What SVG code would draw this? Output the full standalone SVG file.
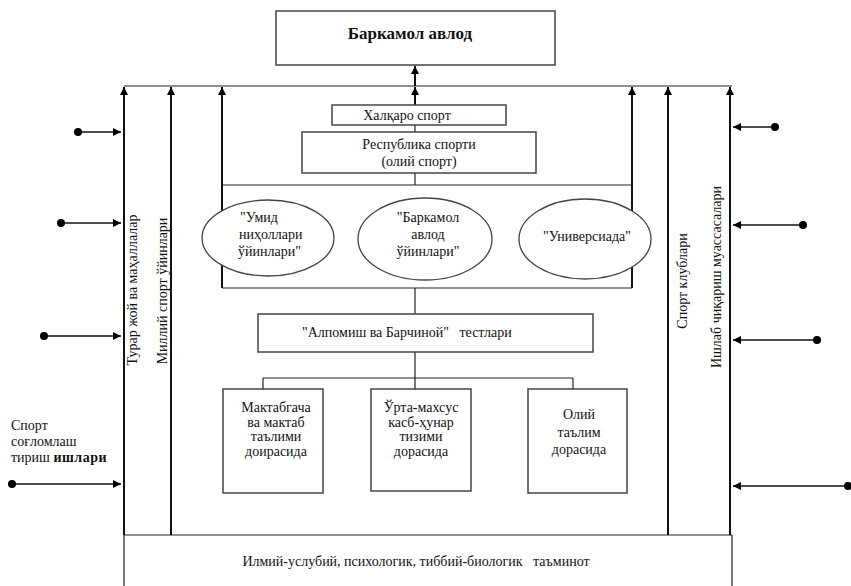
<svg xmlns="http://www.w3.org/2000/svg" width="851" height="586" viewBox="0 0 851 586" font-family="'Liberation Serif', 'DejaVu Serif', serif">
<defs>
<marker id="ah" viewBox="0 0 10 10" refX="10" refY="5" markerWidth="8" markerHeight="8" markerUnits="userSpaceOnUse" orient="auto">
<path d="M0,0 L10,5 L0,10 z" fill="#000"/>
</marker>
<marker id="dot" viewBox="0 0 10 10" refX="5" refY="5" markerWidth="8" markerHeight="8" markerUnits="userSpaceOnUse">
<circle cx="5" cy="5" r="5" fill="#000"/>
</marker>
</defs>
<style>
text{font-family:"Liberation Serif","DejaVu Serif",serif;font-size:14px;fill:#111}
.c{text-anchor:middle}
.b{font-weight:bold;font-size:17px}
.w{font-weight:bold;letter-spacing:0.5px}
.box{fill:#fff;stroke:#444;stroke-width:1.5}
.ell{fill:#fff;stroke:#444;stroke-width:1.3}
.ln{stroke:#222;stroke-width:1.2;fill:none}
.ar{stroke:#111;stroke-width:2;fill:none;marker-end:url(#ah)}
.sa{stroke:#111;stroke-width:1.6;fill:none;marker-start:url(#dot);marker-end:url(#ah)}
</style>
<rect width="851" height="586" fill="#fff"/>

<g id="connectors">
<line class="ln" x1="124" y1="86" x2="732" y2="86"/>
<line class="ln" x1="124" y1="535" x2="732" y2="535"/>
<line class="ln" x1="124" y1="535" x2="124" y2="586"/>
<line class="ln" x1="732" y1="535" x2="732" y2="586"/>
<line class="ar" x1="124" y1="535" x2="124" y2="87"/>
<line class="ar" x1="171" y1="535" x2="171" y2="87"/>
<line class="ar" x1="222" y1="288" x2="222" y2="87"/>
<line class="ar" x1="632" y1="288" x2="632" y2="87"/>
<line class="ar" x1="668" y1="535" x2="668" y2="87"/>
<line class="ar" x1="730" y1="535" x2="730" y2="87"/>
<line class="ar" x1="415" y1="105" x2="415" y2="87"/>
<line class="ar" x1="415" y1="86" x2="415" y2="66"/>
<line class="ln" x1="415" y1="125" x2="415" y2="132"/>
<line class="ln" x1="415" y1="173" x2="415" y2="185"/>
<line class="ln" x1="222" y1="185" x2="632" y2="185"/>
<line class="ln" x1="222" y1="288" x2="632" y2="288"/>
<line class="ln" x1="415" y1="288" x2="415" y2="314"/>
<line class="ln" x1="415" y1="352" x2="415" y2="389"/>
<line class="ln" x1="263" y1="378" x2="573" y2="378"/>
<line class="ln" x1="263" y1="378" x2="263" y2="389"/>
<line class="ln" x1="573" y1="378" x2="573" y2="389"/>
<line class="sa" x1="78" y1="132" x2="121" y2="132"/>
<line class="sa" x1="61" y1="223" x2="121" y2="223"/>
<line class="sa" x1="44" y1="336" x2="121" y2="336"/>
<line class="sa" x1="12" y1="484" x2="121" y2="484"/>
<line class="sa" x1="775" y1="127" x2="733" y2="127"/>
<line class="sa" x1="803" y1="225" x2="733" y2="225"/>
<line class="sa" x1="817" y1="340" x2="733" y2="340"/>
<line class="sa" x1="848" y1="486" x2="733" y2="486"/>
</g>

<g id="barkamol">
<rect class="box" x="276" y="11" width="279" height="54"/>
<text class="c b" x="410" y="39">Баркамол авлод</text>
</g>

<g id="xalqaro">
<rect class="box" x="332" y="105" width="174" height="20"/>
<text class="c" x="407" y="120">Халқаро спорт</text>
</g>

<g id="respublika">
<rect class="box" x="302" y="132" width="234" height="41"/>
<text class="c" x="419" y="149">Республика спорти</text>
<text class="c" x="419" y="166">(олий спорт)</text>
</g>

<g id="umid">
<ellipse class="ell" cx="268" cy="238" rx="66" ry="38"/>
<text x="240" y="222">"Умид</text>
<text x="239" y="239">ниҳоллари</text>
<text x="238" y="256">ўйинлари"</text>
</g>

<g id="barkamol-oyin">
<ellipse class="ell" cx="425" cy="239" rx="67" ry="41"/>
<text class="c" x="428" y="222">"Баркамол</text>
<text class="c" x="428" y="239">авлод</text>
<text class="c" x="428" y="256">ўйинлари"</text>
</g>

<g id="universiada">
<ellipse class="ell" cx="585" cy="239" rx="66" ry="40"/>
<text class="c" x="587" y="241">"Универсиада"</text>
</g>

<g id="alpomish">
<rect class="box" x="258" y="314" width="335" height="38"/>
<text x="302" y="337" xml:space="preserve">"Алпомиш ва Барчиной"   тестлари</text>
</g>

<g id="maktab">
<rect class="box" x="223" y="389" width="100" height="104"/>
<text class="c" x="276" y="412">Мактабгача</text>
<text class="c" x="276" y="427">ва мактаб</text>
<text class="c" x="276" y="441">таълими</text>
<text class="c" x="276" y="456">доирасида</text>
</g>

<g id="orta">
<rect class="box" x="371" y="389" width="100" height="102"/>
<text class="c" x="421" y="412">Ўрта-махсус</text>
<text class="c" x="421" y="427">касб-ҳунар</text>
<text class="c" x="421" y="441">тизими</text>
<text class="c" x="421" y="456">дорасида</text>
</g>

<g id="oliy">
<rect class="box" x="528" y="389" width="99" height="104"/>
<text class="c" x="579" y="419">Олий</text>
<text class="c" x="579" y="437">таълим</text>
<text class="c" x="579" y="454">дорасида</text>
</g>

<g id="labels">
<text class="c" transform="translate(137,290) rotate(-90)">Турар жой ва маҳаллалар</text>
<text class="c" transform="translate(167,291) rotate(-90)">Миллий спорт ўйинлари</text>
<text class="c" transform="translate(687,281) rotate(-90)">Спорт клублари</text>
<text class="c" transform="translate(721,277) rotate(-90)">Ишлаб чиқариш муассасалари</text>
</g>

<g id="sport-soglomlash">
<text x="11" y="430">Спорт</text>
<text x="11" y="446">соғломлаш</text>
<text x="11" y="462">тириш <tspan class="w">ишлари</tspan></text>
</g>

<g id="taminot">
<text class="c" x="416" y="566" xml:space="preserve">Илмий-услубий, психологик, тиббий-биологик   таъминот</text>
</g>
</svg>
